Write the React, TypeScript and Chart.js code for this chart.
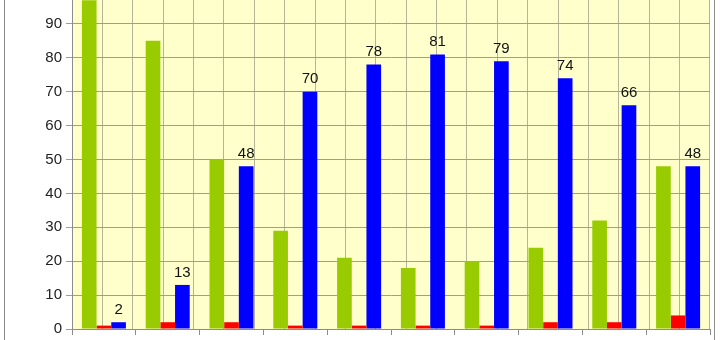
import React, { useEffect, useRef } from "react";
import { Chart, registerables } from "chart.js";

Chart.register(...registerables);

const categories = ["1", "2", "3", "4", "5", "6", "7", "8", "9", "10"];
const greenValues = [97, 85, 50, 29, 21, 18, 20, 24, 32, 48];
const redValues = [1, 2, 2, 1, 1, 1, 1, 2, 2, 4];
const blueValues = [2, 13, 48, 70, 78, 81, 79, 74, 66, 48];
const yTicks = [0, 10, 20, 30, 40, 50, 60, 70, 80, 90, 100];

const FONT = "'Liberation Sans', Arial, sans-serif";

export default function App() {
  const ref = useRef<HTMLCanvasElement | null>(null);

  useEffect(() => {
    if (!ref.current) return;
    const framePlugin = {
      id: "frame",
      beforeDraw(chart: any) {
        const { ctx, chartArea } = chart;
        ctx.save();
        ctx.fillStyle = "#ffffff";
        ctx.fillRect(0, 0, chart.width, chart.height);
        ctx.fillStyle = "#ffffcc";
        ctx.fillRect(chartArea.left, chartArea.top, chartArea.right - chartArea.left, chartArea.bottom - chartArea.top);
        ctx.strokeStyle = "#8c8c8c";
        ctx.lineWidth = 1;
        ctx.beginPath();
        ctx.moveTo(4.5, 0);
        ctx.lineTo(4.5, chart.height);
        ctx.moveTo(714.5, 0);
        ctx.lineTo(714.5, chart.height);
        ctx.stroke();
        ctx.restore();
      },
      afterDatasetsDraw(chart: any) {
        const { ctx } = chart;
        const meta = chart.getDatasetMeta(2);
        ctx.save();
        ctx.fillStyle = "#111111";
        ctx.font = `15px ${FONT}`;
        ctx.textAlign = "center";
        ctx.textBaseline = "bottom";
        meta.data.forEach((bar: any, i: number) => {
          ctx.fillText(String(blueValues[i]), bar.x, bar.y - 5);
        });
        ctx.restore();
      },
    };

    const chart = new Chart(ref.current, {
      type: "bar",
      data: {
        labels: categories,
        datasets: [
          { data: greenValues, backgroundColor: "#99cc00" },
          { data: redValues, backgroundColor: "#ff0000" },
          { data: blueValues, backgroundColor: "#0000ff" },
        ],
      },
      options: {
        animation: false,
        responsive: false,
        events: [],
        layout: { padding: { left: 0, right: 10, top: 9, bottom: 0 } },
        datasets: { bar: { barPercentage: 1, categoryPercentage: 0.69 } },
        plugins: { legend: { display: false }, tooltip: { enabled: false } },
        scales: {
          x: {
            type: "category",
            offset: true,
            grid: { offset: true, drawOnChartArea: false, tickLength: 6, color: "#8c8c8c" },
            border: { color: "#8c8c8c" },
            ticks: { display: false },
            afterFit(scale: any) {
              scale.height = 52;
            },
          },
          x2: {
            type: "linear",
            position: "bottom",
            min: 0,
            max: 10,
            ticks: { display: false, stepSize: 0.5 },
            grid: { drawTicks: false, color: "#b4b496" },
            border: { display: false },
            afterFit(scale: any) {
              scale.height = 0;
            },
          },
          y: {
            min: 0,
            max: 100,
            afterBuildTicks(scale: any) {
              scale.ticks = yTicks.map((v) => ({ value: v }));
            },
            grid: { color: "#a0a084", tickLength: 6 },
            border: { color: "#8c8c8c" },
            ticks: {
              color: "#222222",
              font: { family: FONT, size: 15 },
              padding: 4,
            },
            afterFit(scale: any) {
              scale.width = 72;
            },
          },
        },
      },
      plugins: [framePlugin],
    } as any);
    return () => chart.destroy();
  }, []);

  return (
    <div style={{ position: "fixed", left: 0, top: 0, width: 720, height: 340, overflow: "hidden", background: "#fff" }}>
      <canvas ref={ref} width={720} height={404} style={{ position: "absolute", left: 0, top: -23, width: 720, height: 404 }} />
    </div>
  );
}
